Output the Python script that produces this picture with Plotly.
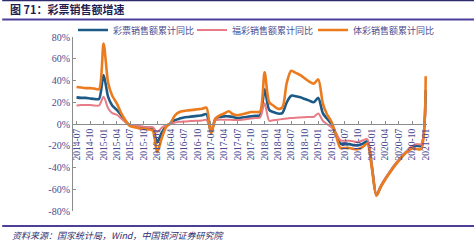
import pandas as pd
import plotly.graph_objects as go

# Categories: monthly, 2014-07 .. 2021-01
months = pd.date_range("2014-07-01", "2021-01-01", freq="MS").strftime("%Y-%m-%d").tolist()

total = [24.5, 24, 24, 23.5, 23, 23,
         45, 25, 17, 13, 8, 2, -1, -2, -2.5, -3, -3.5, -4,
         -17, -8, -2, 0.5, 3.5, 5, 6, 6.5, 7, 7.5, 8, 9,
         -7.4, 5, 6.5, 7, 7, 6.5, 5.5, 6, 6.5, 7, 7.5, 8,
         32, 13, 11, 9.6, 10, 20, 26, 25.5, 24.5, 23, 21.5, 20,
         24, 10, 5, 0, -9, -18, -18.5, -18.5, -19.5, -19.5, -18, -16,
         -39, -65.5, -57.5, -50.5, -44.5, -38.5, -33.5, -28.5, -24.5, -21, -20, -20,
         31]
welfare = [17, 17.5, 17.5, 17.5, 17, 17,
           25, 14.5, 10, 8.5, 5, 1.5, -1, -1.5, -2, -2.5, -3, -3,
           -7.4, -3.5, -1, 0, 1.3, 2, 2.3, 2.5, 2.8, 3, 3.3, 3.7,
           -5, 3.4, 4, 4, 4, 3.7, 3.7, 4, 4.5, 5, 5.5, 6,
           19, 3, 3.5, 4, 4.5, 5, 5.5, 5.8, 6, 6.2, 6.5, 6.5,
           9.6, 3, 0, -3, -8, -15, -15.5, -15.5, -16, -16.5, -15, -14,
           -38, -65, -57, -50, -44, -38, -33, -28, -24, -20, -18.5, -18.5,
           15]
sports = [34, 33.5, 33, 33, 32.5, 32,
          74, 38, 26, 19, 10, 3, -2, -3, -4, -4.5, -5, -6,
          -26, -13, -3, 1, 8, 11, 12, 12.5, 13, 13.5, 14, 15,
          -9, 5, 8, 9.6, 11.7, 9, 8, 9, 10, 11, 11, 11.5,
          47.5, 20, 17, 14, 15, 38, 49, 47, 45, 42, 39, 37,
          41, 19, 9, 2, -10, -22, -22, -22, -23, -23, -21, -18,
          -41, -66, -58, -51, -45, -39, -34, -29, -25, -22.5, -23, -23,
          44]

names = ["彩票销售额累计同比", "福彩销售额累计同比", "体彩销售额累计同比"]
colors = ["#1B5A86", "#E77B86", "#EC7B1E"]
widths = [2.6, 2.0, 2.6]
series = [total, welfare, sports]
legend_ids = ["legend", "legend2", "legend3"]
legend_px = [73, 192, 313]  # left pixel of each legend entry

y_tickvals = [-80, -60, -40, -20, 0, 20, 40, 60, 80]
y_ticktext = [f"{v}%" for v in y_tickvals]

fig = go.Figure()
for name, vals, c, w, lg in zip(names, series, colors, widths, legend_ids):
    fig.add_trace(go.Scatter(x=months, y=vals, name=name, mode="lines", legend=lg,
                             line=dict(color=c, width=w, shape="spline", smoothing=0.8)))

label_color = "#4A4A90"
PW, PH, L, T = 354, 174, 73, 37
legend_common = dict(orientation="h", yanchor="middle", y=1 + (T - 30) / PH, xanchor="left",
                     font=dict(family="Noto Sans CJK SC", size=9, color=label_color),
                     itemwidth=30, bgcolor="rgba(0,0,0,0)")
layout_legends = {}
for lg, px in zip(legend_ids, legend_px):
    layout_legends[lg] = dict(legend_common, x=(px - L) / PW)

fig.update_layout(
    width=474, height=243,
    margin=dict(l=L, r=474 - L - PW, t=T, b=243 - T - PH),
    paper_bgcolor="white", plot_bgcolor="white",
    showlegend=True,
    xaxis=dict(type="date", range=["2014-06-07", "2021-01-10"],
               tick0="2014-07-01", dtick="M3", tickformat="%Y-%m",
               tickangle=-90, anchor="free", position=0.5,
               showline=True, linecolor="#8C8C8C", linewidth=1,
               ticks="inside", ticklen=3, tickcolor="#8C8C8C",
               showgrid=False, zeroline=False,
               tickfont=dict(family="Liberation Serif", size=9.5, color=label_color)),
    yaxis=dict(range=[-80, 80], tickvals=y_tickvals, ticktext=y_ticktext,
               showline=True, linecolor="#8C8C8C", linewidth=1,
               ticks="inside", ticklen=3, tickcolor="#8C8C8C",
               showgrid=False, zeroline=False,
               tickfont=dict(family="Liberation Serif", size=10, color=label_color)),
    **layout_legends,
)

# header / footer
fig.add_shape(type="line", xref="paper", yref="paper", x0=-0.2, x1=1.133,
              y0=1 + (T - 0.5) / PH, y1=1 + (T - 0.5) / PH,
              line=dict(color="#2B2B6E", width=1.5))
fig.add_shape(type="line", xref="paper", yref="paper", x0=-0.2, x1=1.133,
              y0=1 + (T - 19.5) / PH, y1=1 + (T - 19.5) / PH,
              line=dict(color="#4B3F9A", width=2))
fig.add_shape(type="line", xref="paper", yref="paper", x0=-0.2, x1=1.133,
              y0=-(226 - 211) / PH, y1=-(226 - 211) / PH,
              line=dict(color="#4B3F9A", width=2))
fig.add_annotation(text="<b>图 71：彩票销售额增速</b>", xref="paper", yref="paper",
                   x=-(L - 8) / PW, y=1 + (T - 9.5) / PH, xanchor="left", yanchor="middle",
                   showarrow=False, font=dict(family="Noto Sans CJK SC", size=11, color="#1E1E50"))
fig.add_annotation(text="<i>资料来源：国家统计局，Wind，中国银河证券研究院</i>", xref="paper", yref="paper",
                   x=-(L - 10) / PW, y=-(235.5 - 211) / PH, xanchor="left", yanchor="middle",
                   showarrow=False, font=dict(family="Noto Sans CJK SC", size=9, color="#2E2E70"))

fig.write_html("out.html")
